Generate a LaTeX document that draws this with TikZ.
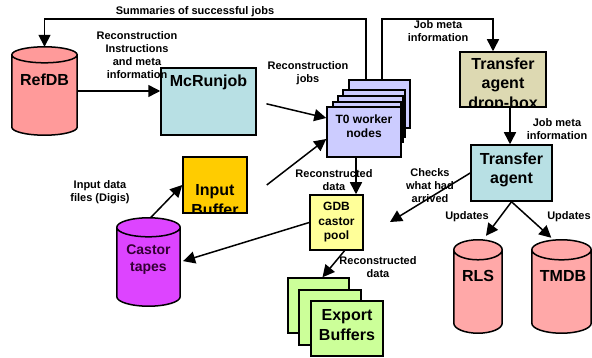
\documentclass[tikz,border=0pt]{standalone}
\usepackage{fontspec}
\setmainfont{Liberation Sans}
\usetikzlibrary{arrows.meta,calc}

\definecolor{refbody}{HTML}{FF7B7B}
\definecolor{reftop}{HTML}{FF9A9A}
\definecolor{cyanbox}{HTML}{B8E0E4}
\definecolor{workerbox}{HTML}{CCCCFF}
\definecolor{inbufbox}{HTML}{FFCC00}
\definecolor{castorbody}{HTML}{CC00FF}
\definecolor{castortop}{HTML}{DD44FF}
\definecolor{castortext}{HTML}{330033}
\definecolor{gdbbox}{HTML}{FFFF99}
\definecolor{exportbox}{HTML}{CCFF99}
\definecolor{dropbox}{HTML}{DDD9B2}
\definecolor{dbbody}{HTML}{FF9999}
\definecolor{dbtop}{HTML}{FFA8A8}

% draws a vertical drum inside the bounding box of node #1
% #2 body colour, #3 top colour, #4 half height of the end ellipse (pt)
\newcommand\drawdrum[4]{%
  \path let \p1=(#1.north west), \p2=(#1.south east),
            \n1={(\x2-\x1)/2} in
    [draw=black, line width=1.5pt, fill=#2]
      (\x1,\y1-#4pt) -- (\x1,\y2+#4pt)
      arc[start angle=180, end angle=360, x radius=\n1, y radius=#4pt]
      -- (\x2,\y1-#4pt)
      arc[start angle=0, end angle=180, x radius=\n1, y radius=#4pt]
      -- cycle
    [draw=black, line width=1.5pt, fill=#3]
      (\x1+\n1,\y1-#4pt) ellipse[x radius=\n1, y radius=#4pt];%
}

\tikzset{
  box/.style={draw=black, line width=1.5pt, rectangle, inner sep=0pt},
  drumbox/.style={rectangle, inner sep=0pt},
  big/.style={font=\fontsize{16}{19.5}\selectfont\bfseries, align=center, inner sep=0pt},
  mid/.style={font=\fontsize{12}{14.5}\selectfont\bfseries, align=center, inner sep=0pt},
  lbl/.style={font=\fontsize{11}{13}\selectfont\bfseries, align=center, inner sep=0pt},
  arr/.style={line width=1.5pt, -{Triangle[length=12pt,width=12pt]}},
}

\begin{document}
\begin{tikzpicture}[x=1pt, y=-1pt]
\useasboundingbox (0,0) rectangle (592,358);

% --- RefDB drum and McRunjob ---
\node[drumbox, minimum width=65pt, minimum height=88pt] (refdb) at (44.5,91) {};
\drawdrum{refdb}{refbody}{reftop}{8}
\node[big] (refdbtext) at (44.5,80) {RefDB};

\node[box, fill=cyanbox, minimum width=95pt, minimum height=67pt] (mcrun) at (208.5,101.5) {};
\node[big] (mcruntext) at (208.5,82) {McRunjob};

% --- T0 worker node stack ---
\node[box, fill=workerbox, minimum width=61pt, minimum height=48pt] (t0a) at (379.5,104) {};
\node[box, fill=workerbox, minimum width=62pt, minimum height=47pt] (t0b) at (374,113.5) {};
\node[box, fill=workerbox, minimum width=65pt, minimum height=46pt] (t0c) at (370.5,119) {};
\node[box, fill=workerbox, minimum width=68pt, minimum height=46pt] (t0d) at (367,125) {};
\node[box, fill=workerbox, minimum width=74pt, minimum height=50pt] (t0) at (364,132) {};
\node[mid] (t0text) at (364,126) {T0 worker\\nodes};

% --- input side ---
\node[box, fill=inbufbox, minimum width=64pt, minimum height=56pt,
      path picture={\node[big] (inbuftext) at ([yshift=-15pt]path picture bounding box.center) {Input\\Buffer};}]
      (inbuf) at (215,185) {};

\node[drumbox, minimum width=63pt, minimum height=88pt] (castor) at (148.5,262) {};
\drawdrum{castor}{castorbody}{castortop}{9.5}
\node[font=\fontsize{14}{17}\selectfont\bfseries, align=center, inner sep=0pt, text=castortext]
      (castortext) at (148.5,259.5) {Castor\\tapes};

% --- GDB pool and export buffers ---
\node[box, fill=gdbbox, minimum width=53pt, minimum height=55pt, mid] (gdb) at (336.5,222.5) {GDB\\castor\\pool};

\node[box, fill=exportbox, minimum width=61pt, minimum height=55pt] (exp1) at (318.5,305.5) {};
\node[box, fill=exportbox, minimum width=62pt, minimum height=55pt] (exp2) at (330,317.5) {};
\node[box, fill=exportbox, minimum width=72pt, minimum height=55pt] (exp3) at (347,328.5) {};
\node[big] (exptext) at (347,325) {Export\\Buffers};

% --- transfer agent side ---
\node[box, fill=dropbox, minimum width=86pt, minimum height=55pt,
      path picture={\node[big] (droptext) at ([yshift=-5pt]path picture bounding box.center) {Transfer\\agent\\drop-box};}]
      (dropbox) at (503,79.5) {};

\node[box, fill=cyanbox, minimum width=81pt, minimum height=56pt] (tagent) at (511.5,173) {};
\node[big] (tagenttext) at (511.5,170) {Transfer\\agent};

\node[drumbox, minimum width=48pt, minimum height=93pt] (rls) at (478,286.5) {};
\drawdrum{rls}{dbbody}{dbtop}{10}
\node[big] (rlstext) at (478,276) {RLS};

\node[drumbox, minimum width=59pt, minimum height=93pt] (tmdb) at (561.5,286.5) {};
\drawdrum{tmdb}{dbbody}{dbtop}{10}
\node[big] (tmdbtext) at (563,276) {TMDB};

% --- connectors ---
\coordinate (sumcorner) at (366,19);
\coordinate (jobcorner) at (382,19);
\coordinate (checkend) at (390,222);

\draw[arr] (sumcorner |- t0a.north) -- (sumcorner) -| (refdb.north);
\draw[arr] (jobcorner |- t0a.north) -- (jobcorner) -| ([xshift=-10pt]dropbox.north);
\draw[arr] (refdb.east) -- (mcrun.west |- refdb.east);
\draw[arr, shorten <=10pt] (mcrun.east) -- ([yshift=14pt]t0.west);
\draw[arr] ([xshift=19pt]inbuf.east) -- ([yshift=-7pt]t0.west);
\draw[arr] ([xshift=2pt]castor.north) -- (inbuf.west);
\draw[arr] ([xshift=-8pt]t0.south) -- ([xshift=-8pt]t0.south |- gdb.north);
\draw[arr, shorten >=3pt] (gdb.west) -- (castor.east);
\draw[arr] (tagent.west) -- (checkend);
\draw[arr] ([xshift=8pt]gdb.south) -- ([xshift=4pt]exp1.north);
\draw[arr] ([xshift=7pt]dropbox.south) -- ([xshift=7pt]dropbox.south |- tagent.north);
\draw[arr, shorten >=5pt] (tagent.south) -- ([xshift=5pt]rls.north);
\draw[arr, shorten >=3pt] (tagent.south) -- ([xshift=-8pt]tmdb.north);

% --- connector labels ---
\node[lbl] (lsum) at (195,12) {Summaries of successful jobs};
\node[lbl] (ljob1) at (438,31.5) {Job meta\\information};
\node[lbl] (linstr) at (137,55.5) {Reconstruction\\Instructions\\and meta\\information};
\node[lbl] (ljobs) at (308,73.5) {Reconstruction\\jobs};
\node[lbl] (ldigis) at (100,192) {Input data\\files (Digis)};
\node[lbl] (lrec1) at (334,180.5) {Reconstructed\\data};
\node[lbl] (lchecks) at (430,186) {Checks\\what had\\arrived};
\node[lbl] (lrec2) at (378,267.5) {Reconstructed\\data};
\node[lbl] (ljob2) at (557,129.5) {Job meta\\information};
\node[lbl] (lupd1) at (467,217) {Updates};
\node[lbl] (lupd2) at (569,217) {Updates};
\end{tikzpicture}
\end{document}
